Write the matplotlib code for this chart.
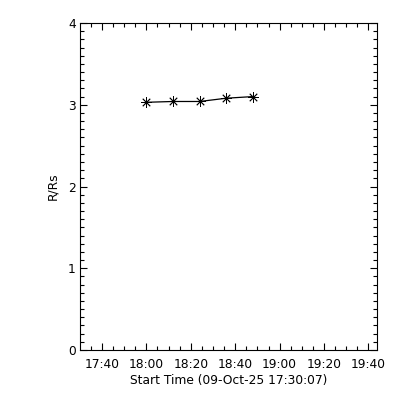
import matplotlib
matplotlib.use("Agg")
import matplotlib.pyplot as plt
import matplotlib.dates as mdates
from matplotlib.ticker import MultipleLocator
from datetime import datetime

# Data
times = ["2025-10-09 18:00:00", "2025-10-09 18:12:00", "2025-10-09 18:24:00",
         "2025-10-09 18:36:00", "2025-10-09 18:48:00"]
heights = [3.03, 3.04, 3.04, 3.08, 3.10]
x_start = "2025-10-09 17:30:07"
x_end = "2025-10-09 19:43:42"
y_range = [0, 4]
x_title = "Start Time (09-Oct-25 17:30:07)"
y_title = "R/Rs"

fmt = "%Y-%m-%d %H:%M:%S"
t = [datetime.strptime(s, fmt) for s in times]

plt.rcParams['font.family'] = ['DejaVu Sans']
fig = plt.figure(figsize=(4, 4), dpi=100)
ax = fig.add_axes([0.2, 0.125, 0.7417, 0.8175])

ax.plot(t, heights, color='black', linewidth=0.9,
        marker=(8, 2, 0), markersize=7.5, markeredgewidth=0.6,
        markeredgecolor='black')

ax.set_xlim(datetime.strptime(x_start, fmt), datetime.strptime(x_end, fmt))
ax.set_ylim(*y_range)

ax.xaxis.set_major_locator(mdates.MinuteLocator(byminute=[0, 20, 40]))
ax.xaxis.set_minor_locator(mdates.MinuteLocator(byminute=range(0, 60, 5)))
ax.xaxis.set_major_formatter(mdates.DateFormatter('%H:%M'))
ax.yaxis.set_major_locator(MultipleLocator(1))
ax.yaxis.set_minor_locator(MultipleLocator(0.1))

ax.tick_params(which='both', direction='in', top=True, right=True,
               width=0.8, color='black', labelsize=8.8)
ax.tick_params(which='major', length=5)
ax.tick_params(which='minor', length=2.6)
ax.tick_params(axis='x', which='major', pad=6)
ax.tick_params(axis='y', which='major', pad=3)

for sp in ax.spines.values():
    sp.set_linewidth(0.8)

ax.set_xlabel(x_title, fontsize=8.8, labelpad=2)
ax.set_ylabel(y_title, fontsize=8.8, labelpad=6)

fig.savefig("out.png", dpi=100)
